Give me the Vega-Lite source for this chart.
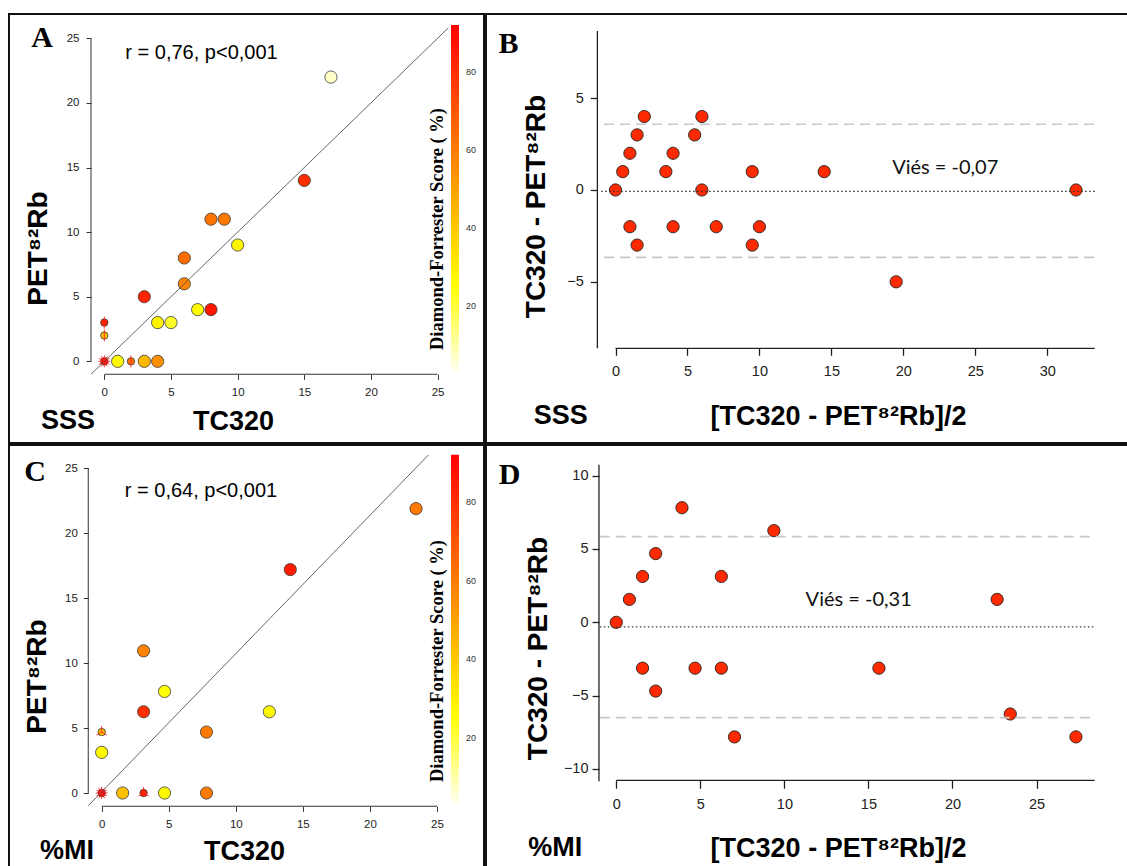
{
  "$schema": "https://vega.github.io/schema/vega-lite/v6.json",
  "padding": {"left": 8, "top": 13, "right": 0, "bottom": 0},
  "background": "white",
  "datasets": {
    "sss": [
      {"tc": 17, "pet": 22, "mean": 19.5, "diff": -5, "df": 7, "n": 1},
      {"tc": 15, "pet": 14, "mean": 14.5, "diff": 1, "df": 80, "n": 1},
      {"tc": 8, "pet": 11, "mean": 9.5, "diff": -3, "df": 62, "n": 1},
      {"tc": 9, "pet": 11, "mean": 10, "diff": -2, "df": 60, "n": 1},
      {"tc": 10, "pet": 9, "mean": 9.5, "diff": 1, "df": 28, "n": 1},
      {"tc": 6, "pet": 8, "mean": 7, "diff": -2, "df": 64, "n": 1},
      {"tc": 6, "pet": 6, "mean": 6, "diff": 0, "df": 58, "n": 1},
      {"tc": 3, "pet": 5, "mean": 4, "diff": -2, "df": 83, "n": 1},
      {"tc": 7, "pet": 4, "mean": 5.5, "diff": 3, "df": 27, "n": 1},
      {"tc": 8, "pet": 4, "mean": 6, "diff": 4, "df": 86, "n": 1},
      {"tc": 4, "pet": 3, "mean": 3.5, "diff": 1, "df": 29, "n": 1},
      {"tc": 5, "pet": 3, "mean": 4, "diff": 2, "df": 22, "n": 1},
      {"tc": 0, "pet": 3, "mean": 1.5, "diff": -3, "df": 82, "n": 2},
      {"tc": 0, "pet": 2, "mean": 1, "diff": -2, "df": 42, "n": 2},
      {"tc": 0, "pet": 0, "mean": 0, "diff": 0, "df": 90, "n": 8},
      {"tc": 1, "pet": 0, "mean": 0.5, "diff": 1, "df": 27, "n": 1},
      {"tc": 2, "pet": 0, "mean": 1, "diff": 2, "df": 62, "n": 2},
      {"tc": 3, "pet": 0, "mean": 1.5, "diff": 3, "df": 44, "n": 1},
      {"tc": 4, "pet": 0, "mean": 2, "diff": 4, "df": 55, "n": 1},
      {"tc": 32, "pet": 32, "mean": 32, "diff": 0, "df": 50, "n": 1}
    ],
    "mi": [
      {"tc": 23.4375, "pet": 21.875, "mean": 22.65625, "diff": 1.5625, "df": 60, "n": 1},
      {"tc": 14.0625, "pet": 17.1875, "mean": 15.625, "diff": -3.125, "df": 85, "n": 1},
      {"tc": 3.125, "pet": 10.9375, "mean": 7.03125, "diff": -7.8125, "df": 58, "n": 1},
      {"tc": 4.6875, "pet": 7.8125, "mean": 6.25, "diff": -3.125, "df": 25, "n": 1},
      {"tc": 3.125, "pet": 6.25, "mean": 4.6875, "diff": -3.125, "df": 80, "n": 1},
      {"tc": 12.5, "pet": 6.25, "mean": 9.375, "diff": 6.25, "df": 27, "n": 1},
      {"tc": 7.8125, "pet": 4.6875, "mean": 6.25, "diff": 3.125, "df": 60, "n": 1},
      {"tc": 0, "pet": 4.6875, "mean": 2.34375, "diff": -4.6875, "df": 42, "n": 3},
      {"tc": 0, "pet": 3.125, "mean": 1.5625, "diff": -3.125, "df": 27, "n": 1},
      {"tc": 0, "pet": 0, "mean": 0, "diff": 0, "df": 90, "n": 8},
      {"tc": 1.5625, "pet": 0, "mean": 0.78125, "diff": 1.5625, "df": 42, "n": 1},
      {"tc": 3.125, "pet": 0, "mean": 1.5625, "diff": 3.125, "df": 82, "n": 3},
      {"tc": 4.6875, "pet": 0, "mean": 2.34375, "diff": 4.6875, "df": 27, "n": 1},
      {"tc": 7.8125, "pet": 0, "mean": 3.90625, "diff": 7.8125, "df": 60, "n": 1},
      {"tc": 20.3125, "pet": 26.5625, "mean": 23.4375, "diff": -6.25, "df": 50, "n": 1},
      {"tc": 23.4375, "pet": 31.25, "mean": 27.34375, "diff": -7.8125, "df": 50, "n": 1}
    ]
  },
  "columns": 2,
  "spacing": 0,
  "resolve": {"scale": {"color": "independent", "shape": "independent"}, "legend": {"color": "independent"}},
  "concat": [
    {
      "width": 475, "height": 429,
      "layer": [
        {
          "data": {"name": "sss"},
          "transform": [{"filter": "datum.tc <= 25 && datum.pet <= 25"}],
          "mark": {"type": "point", "filled": true, "shape": "circle", "stroke": "#3a3a3a", "strokeWidth": 0.8, "opacity": 1},
          "encoding": {
            "x": {"field": "tc", "type": "quantitative",
              "scale": {"domain": [-7.15, 28.48], "nice": false, "zero": false},
              "axis": {"values": [0, 5, 10, 15, 20, 25], "offset": -68.7, "domain": false, "grid": false, "tickSize": 5, "tickColor": "#333", "tickWidth": 1,
                "labelFont": "Liberation Sans", "labelFontSize": 11.5, "labelColor": "#222", "labelPadding": 7, "labelFlush": false, "labelOverlap": false,
                "title": "TC320", "titleFont": "Liberation Sans", "titleFontSize": 27, "titleFontWeight": "bold", "titleColor": "#000",
                "titleX": 224, "titleY": 46.7, "titleAlign": "center", "titleBaseline": "middle", "titleAngle": 0}},
            "y": {"field": "pet", "type": "quantitative",
              "scale": {"domain": [-6.32, 26.88], "nice": false, "zero": false},
              "axis": {"values": [0, 5, 10, 15, 20, 25], "offset": -82, "domain": false, "grid": false, "tickSize": 5, "tickColor": "#333", "tickWidth": 1,
                "labelFont": "Liberation Sans", "labelFontSize": 11.5, "labelColor": "#222", "labelPadding": 7, "labelAngle": 0, "labelOverlap": false, "labelFlush": false,
                "title": "PET⁸²Rb", "titleFont": "Liberation Sans", "titleFontSize": 28, "titleFontWeight": "bold", "titleColor": "#000",
                "titleX": -53, "titleY": 234, "titleAngle": 270, "titleAlign": "center", "titleBaseline": "middle"}},
            "color": {"field": "df", "type": "quantitative",
              "scale": {"domain": [3.5, 25.7, 92], "range": ["#FFFFF0", "#FFFF00", "#FF0000"], "interpolate": "rgb"},
              "legend": {"type": "gradient", "orient": "none", "legendX": 442, "legendY": 11, "direction": "vertical", "gradientLength": 346, "gradientThickness": 8,
                "values": [20, 40, 60, 80], "title": null, "labelFont": "Liberation Sans", "labelFontSize": 9, "labelColor": "#333", "labelOffset": 7, "gradientStrokeWidth": 0, "padding": 0}},
            "size": {"condition": {"test": "datum.n > 1", "value": 55}, "value": 150}
          }
        },
        {
          "data": {"name": "sss"},
          "transform": [{"filter": "datum.n > 1 && datum.tc <= 25 && datum.pet <= 25"}],
          "mark": {"type": "point", "filled": false, "color": "#FF1A1A", "strokeWidth": 1, "opacity": 0.85, "size": 144},
          "encoding": {
            "x": {"field": "tc", "type": "quantitative"},
            "y": {"field": "pet", "type": "quantitative"},
            "shape": {"field": "n", "type": "nominal", "legend": null,
              "scale": {"domain": [2, 3, 8], "range": ["M0,-1L0,1", "M0,0L0,-1M0,0L0.866,0.5M0,0L-0.866,0.5", "M0,0L0,-1M0,0L0.5,-0.866M0,0L0.866,-0.5M0,0L1,0M0,0L0.866,0.5M0,0L0.5,0.866M0,0L0,1M0,0L-0.5,0.866M0,0L-0.866,0.5M0,0L-1,0M0,0L-0.866,-0.5M0,0L-0.5,-0.866"]}}
          }
        },
        {"data": {"values": [{}]}, "mark": {"type": "rule", "color": "#555", "strokeWidth": 0.9},
          "encoding": {"x": {"datum": -1}, "y": {"datum": -1}, "x2": {"datum": 25.8}, "y2": {"datum": 25.8}}},
        {"data": {"values": [{}]}, "mark": {"type": "rule", "color": "#333", "strokeWidth": 1},
          "encoding": {"x": {"datum": 0}, "x2": {"datum": 25}, "y": {"datum": -1}}},
        {"data": {"values": [{}]}, "mark": {"type": "rule", "color": "#333", "strokeWidth": 1},
          "encoding": {"y": {"datum": 0}, "y2": {"datum": 25}, "x": {"datum": -1}}},
        {"data": {"values": [{}]}, "mark": {"type": "text", "text": "A", "font": "Liberation Serif", "fontWeight": "bold", "fontSize": 30, "align": "center", "baseline": "middle", "color": "#000"},
          "encoding": {"x": {"datum": -4.67}, "y": {"datum": 25.02}}},
        {"data": {"values": [{}]}, "mark": {"type": "text", "text": "r = 0,76, p<0,001", "font": "Liberation Sans", "fontSize": 20, "align": "center", "baseline": "middle", "color": "#000"},
          "encoding": {"x": {"datum": 7.29}, "y": {"datum": 23.86}}},
        {"data": {"values": [{}]}, "mark": {"type": "text", "text": "SSS", "font": "Liberation Sans", "fontWeight": "bold", "fontSize": 27, "align": "center", "baseline": "middle", "color": "#000"},
          "encoding": {"x": {"datum": -2.72}, "y": {"datum": -4.62}}},
        {"data": {"values": [{}]}, "mark": {"type": "text", "text": "Diamond-Forrester Score ( %)", "angle": 270, "font": "Liberation Serif", "fontWeight": "bold", "fontSize": 18.5, "align": "center", "baseline": "middle", "color": "#000"},
          "encoding": {"x": {"datum": 24.96}, "y": {"datum": 10.24}}}
      ]
    },
    {
      "width": 644, "height": 429,
      "layer": [
        {
          "data": {"name": "sss"},
          "mark": {"type": "point", "filled": true, "shape": "circle", "color": "#FF2A00", "stroke": "#222", "strokeWidth": 0.9, "opacity": 1, "size": 150},
          "encoding": {
            "x": {"field": "mean", "type": "quantitative",
              "scale": {"domain": [-9.0, 35.75], "nice": false, "zero": false},
              "axis": {"values": [0, 5, 10, 15, 20, 25, 30], "offset": -94.7, "domain": false, "grid": false, "tickSize": 7, "tickColor": "#222", "tickWidth": 1.3,
                "labelFont": "Liberation Sans", "labelFontSize": 14.5, "labelColor": "#222", "labelPadding": 9, "labelFlush": false, "labelOverlap": false,
                "title": "[TC320 - PET⁸²Rb]/2", "titleFont": "Liberation Sans", "titleFontSize": 27, "titleFontWeight": "bold", "titleColor": "#000",
                "titleX": 352, "titleY": 67.7, "titleAlign": "center", "titleBaseline": "middle", "titleAngle": 0}},
            "y": {"field": "diff", "type": "quantitative",
              "scale": {"domain": [-13.775, 9.582], "nice": false, "zero": false},
              "axis": {"values": [-5, 0, 5], "offset": -111.3, "domain": false, "grid": false, "tickSize": 7, "tickColor": "#222", "tickWidth": 1.3,
                "labelFont": "Liberation Sans", "labelFontSize": 14.5, "labelColor": "#222", "labelPadding": 7, "labelAngle": 0, "labelOverlap": false, "labelFlush": false,
                "title": "TC320 - PET⁸²Rb", "titleFont": "Liberation Sans", "titleFontSize": 28, "titleFontWeight": "bold", "titleColor": "#000",
                "titleX": -60.6, "titleY": 192, "titleAngle": 270, "titleAlign": "center", "titleBaseline": "middle"}}
          }
        },
        {"data": {"values": [{}]}, "mark": {"type": "rule", "color": "#C8C8C8", "strokeWidth": 1.6, "strokeDash": [10, 6]},
          "encoding": {"x": {"datum": -0.8}, "x2": {"datum": 33.3}, "y": {"datum": 3.58}}},
        {"data": {"values": [{}]}, "mark": {"type": "rule", "color": "#C8C8C8", "strokeWidth": 1.6, "strokeDash": [10, 6]},
          "encoding": {"x": {"datum": -0.8}, "x2": {"datum": 33.3}, "y": {"datum": -3.67}}},
        {"data": {"values": [{}]}, "mark": {"type": "rule", "color": "#333", "strokeWidth": 1.2, "strokeDash": [1.5, 2.5]},
          "encoding": {"x": {"datum": -1.0}, "x2": {"datum": 33.3}, "y": {"datum": -0.07}}},
        {"data": {"values": [{}]}, "mark": {"type": "rule", "color": "#222", "strokeWidth": 1.3},
          "encoding": {"x": {"datum": 0}, "x2": {"datum": 33.3}, "y": {"datum": -8.62}}},
        {"data": {"values": [{}]}, "mark": {"type": "rule", "color": "#222", "strokeWidth": 1.3},
          "encoding": {"y": {"datum": -8.62}, "y2": {"datum": 8.66}, "x": {"datum": -1.26}}},
        {"data": {"values": [{}]}, "mark": {"type": "text", "text": "B", "font": "Liberation Serif", "fontWeight": "bold", "fontSize": 30, "align": "center", "baseline": "middle", "color": "#000"},
          "encoding": {"x": {"datum": -7.43}, "y": {"datum": 7.95}}},
        {"data": {"values": [{}]}, "mark": {"type": "text", "text": "Viés = -0,07", "font": "Lato", "fontSize": 20, "align": "center", "baseline": "middle", "color": "#111"},
          "encoding": {"x": {"datum": 22.91}, "y": {"datum": 1.22}}},
        {"data": {"values": [{}]}, "mark": {"type": "text", "text": "SSS", "font": "Liberation Sans", "fontWeight": "bold", "fontSize": 27, "align": "center", "baseline": "middle", "color": "#000"},
          "encoding": {"x": {"datum": -3.81}, "y": {"datum": -12.3}}}
      ]
    },
    {
      "width": 475, "height": 424,
      "layer": [
        {
          "data": {"name": "mi"},
          "transform": [{"filter": "datum.tc <= 25 && datum.pet <= 25"}],
          "mark": {"type": "point", "filled": true, "shape": "circle", "stroke": "#3a3a3a", "strokeWidth": 0.8, "opacity": 1},
          "encoding": {
            "x": {"field": "tc", "type": "quantitative",
              "scale": {"domain": [-6.909, 28.505], "nice": false, "zero": false},
              "axis": {"values": [0, 5, 10, 15, 20, 25], "offset": -62.7, "domain": false, "grid": false, "tickSize": 5, "tickColor": "#333", "tickWidth": 1,
                "labelFont": "Liberation Sans", "labelFontSize": 11.5, "labelColor": "#222", "labelPadding": 7, "labelFlush": false, "labelOverlap": false,
                "title": "TC320", "titleFont": "Liberation Sans", "titleFontSize": 27, "titleFontWeight": "bold", "titleColor": "#000",
                "titleX": 235, "titleY": 44.7, "titleAlign": "center", "titleBaseline": "middle", "titleAngle": 0}},
            "y": {"field": "pet", "type": "quantitative",
              "scale": {"domain": [-5.846, 26.77], "nice": false, "zero": false},
              "axis": {"values": [0, 5, 10, 15, 20, 25], "offset": -79.3, "domain": false, "grid": false, "tickSize": 5, "tickColor": "#333", "tickWidth": 1,
                "labelFont": "Liberation Sans", "labelFontSize": 11.5, "labelColor": "#222", "labelPadding": 6, "labelAngle": 0, "labelOverlap": false, "labelFlush": false,
                "title": "PET⁸²Rb", "titleFont": "Liberation Sans", "titleFontSize": 28, "titleFontWeight": "bold", "titleColor": "#000",
                "titleX": -50.6, "titleY": 231, "titleAngle": 270, "titleAlign": "center", "titleBaseline": "middle"}},
            "color": {"field": "df", "type": "quantitative",
              "scale": {"domain": [3.5, 25.7, 92], "range": ["#FFFFF0", "#FFFF00", "#FF0000"], "interpolate": "rgb"},
              "legend": {"type": "gradient", "orient": "none", "legendX": 442, "legendY": 9.7, "direction": "vertical", "gradientLength": 348, "gradientThickness": 8,
                "values": [20, 40, 60, 80], "title": null, "labelFont": "Liberation Sans", "labelFontSize": 9, "labelColor": "#333", "labelOffset": 7, "gradientStrokeWidth": 0, "padding": 0}},
            "size": {"condition": {"test": "datum.n > 1", "value": 55}, "value": 150}
          }
        },
        {
          "data": {"name": "mi"},
          "transform": [{"filter": "datum.n > 1 && datum.tc <= 25 && datum.pet <= 25"}],
          "mark": {"type": "point", "filled": false, "color": "#FF1A1A", "strokeWidth": 1, "opacity": 0.85, "size": 144},
          "encoding": {
            "x": {"field": "tc", "type": "quantitative"},
            "y": {"field": "pet", "type": "quantitative"},
            "shape": {"field": "n", "type": "nominal", "legend": null,
              "scale": {"domain": [2, 3, 8], "range": ["M0,-1L0,1", "M0,0L0,-1M0,0L0.866,0.5M0,0L-0.866,0.5", "M0,0L0,-1M0,0L0.5,-0.866M0,0L0.866,-0.5M0,0L1,0M0,0L0.866,0.5M0,0L0.5,0.866M0,0L0,1M0,0L-0.5,0.866M0,0L-0.866,0.5M0,0L-1,0M0,0L-0.866,-0.5M0,0L-0.5,-0.866"]}}
          }
        },
        {"data": {"values": [{}]}, "mark": {"type": "rule", "color": "#555", "strokeWidth": 0.9},
          "encoding": {"x": {"datum": -1}, "y": {"datum": -0.98}, "x2": {"datum": 24.36}, "y2": {"datum": 26}}},
        {"data": {"values": [{}]}, "mark": {"type": "rule", "color": "#333", "strokeWidth": 1},
          "encoding": {"x": {"datum": 0}, "x2": {"datum": 25}, "y": {"datum": -1.02}}},
        {"data": {"values": [{}]}, "mark": {"type": "rule", "color": "#333", "strokeWidth": 1},
          "encoding": {"y": {"datum": 0}, "y2": {"datum": 25}, "x": {"datum": -1}}},
        {"data": {"values": [{}]}, "mark": {"type": "text", "text": "C", "font": "Liberation Serif", "fontWeight": "bold", "fontSize": 30, "align": "center", "baseline": "middle", "color": "#000"},
          "encoding": {"x": {"datum": -4.97}, "y": {"datum": 24.69}}},
        {"data": {"values": [{}]}, "mark": {"type": "text", "text": "r = 0,64, p<0,001", "font": "Liberation Sans", "fontSize": 20, "align": "center", "baseline": "middle", "color": "#000"},
          "encoding": {"x": {"datum": 7.405}, "y": {"datum": 23.21}}},
        {"data": {"values": [{}]}, "mark": {"type": "text", "text": "%MI", "font": "Liberation Sans", "fontWeight": "bold", "fontSize": 27, "align": "center", "baseline": "middle", "color": "#000"},
          "encoding": {"x": {"datum": -2.58}, "y": {"datum": -4.46}}},
        {"data": {"values": [{}]}, "mark": {"type": "text", "text": "Diamond-Forrester Score ( %)", "angle": 270, "font": "Liberation Serif", "fontWeight": "bold", "fontSize": 18.5, "align": "center", "baseline": "middle", "color": "#000"},
          "encoding": {"x": {"datum": 25.0}, "y": {"datum": 10.15}}}
      ]
    },
    {
      "width": 644, "height": 424,
      "layer": [
        {
          "data": {"name": "mi"},
          "mark": {"type": "point", "filled": true, "shape": "circle", "color": "#FF2A00", "stroke": "#222", "strokeWidth": 0.9, "opacity": 1, "size": 150},
          "encoding": {
            "x": {"field": "mean", "type": "quantitative",
              "scale": {"domain": [-7.75, 30.56], "nice": false, "zero": false},
              "axis": {"values": [0, 5, 10, 15, 20, 25], "offset": -88.7, "domain": false, "grid": false, "tickSize": 8, "tickColor": "#222", "tickWidth": 1.3,
                "labelFont": "Liberation Sans", "labelFontSize": 14.5, "labelColor": "#222", "labelPadding": 9, "labelFlush": false, "labelOverlap": false,
                "title": "[TC320 - PET⁸²Rb]/2", "titleFont": "Liberation Sans", "titleFontSize": 27, "titleFontWeight": "bold", "titleColor": "#000",
                "titleX": 352, "titleY": 67.7, "titleAlign": "center", "titleBaseline": "middle", "titleAngle": 0}},
            "y": {"field": "diff", "type": "quantitative",
              "scale": {"domain": [-16.818, 12.09], "nice": false, "zero": false},
              "axis": {"values": [-10, -5, 0, 5, 10], "offset": -113, "domain": false, "grid": false, "tickSize": 7, "tickColor": "#222", "tickWidth": 1.3,
                "labelFont": "Liberation Sans", "labelFontSize": 14.5, "labelColor": "#222", "labelPadding": 4, "labelAngle": 0, "labelOverlap": false, "labelFlush": false,
                "title": "TC320 - PET⁸²Rb", "titleFont": "Liberation Sans", "titleFontSize": 28, "titleFontWeight": "bold", "titleColor": "#000",
                "titleX": -60.3, "titleY": 203, "titleAngle": 270, "titleAlign": "center", "titleBaseline": "middle"}}
          }
        },
        {"data": {"values": [{}]}, "mark": {"type": "rule", "color": "#C8C8C8", "strokeWidth": 1.6, "strokeDash": [10, 6]},
          "encoding": {"x": {"datum": -0.98}, "x2": {"datum": 28.46}, "y": {"datum": 5.84}}},
        {"data": {"values": [{}]}, "mark": {"type": "rule", "color": "#C8C8C8", "strokeWidth": 1.6, "strokeDash": [10, 6]},
          "encoding": {"x": {"datum": -0.98}, "x2": {"datum": 28.46}, "y": {"datum": -6.5}}},
        {"data": {"values": [{}]}, "mark": {"type": "rule", "color": "#333", "strokeWidth": 1.2, "strokeDash": [1.5, 2.5]},
          "encoding": {"x": {"datum": -0.98}, "x2": {"datum": 28.46}, "y": {"datum": -0.31}}},
        {"data": {"values": [{}]}, "mark": {"type": "rule", "color": "#222", "strokeWidth": 1.3},
          "encoding": {"x": {"datum": 0}, "x2": {"datum": 28.46}, "y": {"datum": -10.77}}},
        {"data": {"values": [{}]}, "mark": {"type": "rule", "color": "#222", "strokeWidth": 1.3},
          "encoding": {"y": {"datum": -10.84}, "y2": {"datum": 10.75}, "x": {"datum": -1.03}}},
        {"data": {"values": [{}]}, "mark": {"type": "text", "text": "D", "font": "Liberation Serif", "fontWeight": "bold", "fontSize": 30, "align": "center", "baseline": "middle", "color": "#000"},
          "encoding": {"x": {"datum": -6.34}, "y": {"datum": 10.07}}},
        {"data": {"values": [{}]}, "mark": {"type": "text", "text": "Viés = -0,31", "font": "Lato", "fontSize": 20, "align": "center", "baseline": "middle", "color": "#111"},
          "encoding": {"x": {"datum": 14.42}, "y": {"datum": 1.55}}},
        {"data": {"values": [{}]}, "mark": {"type": "text", "text": "%MI", "font": "Liberation Sans", "fontWeight": "bold", "fontSize": 27, "align": "center", "baseline": "middle", "color": "#000"},
          "encoding": {"x": {"datum": -3.63}, "y": {"datum": -15.38}}}
      ]
    }
  ],
  "config": {
    "view": {"stroke": "#111", "strokeWidth": 2},
    "concat": {"spacing": 0}
  }
}
